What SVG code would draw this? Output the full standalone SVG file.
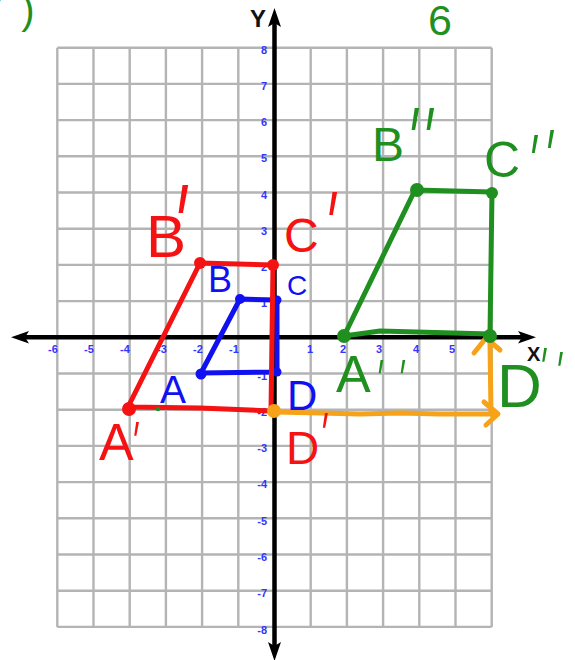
<svg xmlns="http://www.w3.org/2000/svg" width="575" height="660" viewBox="0 0 575 660">
<style>
.grid{stroke:#b4b4b4;stroke-width:2.4;fill:none}
.axis{stroke:#000;stroke-width:4.5;fill:none}
.tick{font-family:"Liberation Sans",Arial,sans-serif;font-size:11px;font-weight:bold;fill:#3434ff}
.ink{fill:none;stroke-width:5;stroke-linecap:round;stroke-linejoin:round}
.hand{font-family:"Liberation Sans",Arial,sans-serif}
.pr{font-family:Inter,"Liberation Sans",sans-serif;font-weight:240;font-style:italic}
.red{stroke:#f51212}.redf{fill:#f51212}
.blue{stroke:#1010f0}.bluef{fill:#1010f0}
.green{stroke:#1f8f1f}.greenf{fill:#1f8f1f}
.orange{stroke:#f7a31a}.orangef{fill:#f7a31a}
</style>
<rect width="575" height="660" fill="#fff"/>
<g id="grid" class="grid">
<path d="M57.3,47.7V626.9M93.5,47.7V626.9M129.7,47.7V626.9M165.9,47.7V626.9M202.1,47.7V626.9M238.3,47.7V626.9M310.7,47.7V626.9M346.9,47.7V626.9M383.1,47.7V626.9M419.3,47.7V626.9M455.5,47.7V626.9M491.7,47.7V626.9"/>
<path d="M57.3,47.7H491.7M57.3,83.9H491.7M57.3,120.1H491.7M57.3,156.3H491.7M57.3,192.5H491.7M57.3,228.7H491.7M57.3,264.9H491.7M57.3,301.1H491.7M57.3,373.5H491.7M57.3,409.7H491.7M57.3,445.9H491.7M57.3,482.1H491.7M57.3,518.3H491.7M57.3,554.5H491.7M57.3,590.7H491.7M57.3,626.9H491.7"/>
</g>
<g id="axes">
<path class="axis" d="M22,337.3H525M274.5,20V650"/>
<path d="M274.5,8L281,27L274.5,23L268,27Z M274.5,661L281,642L274.5,646L268,642Z M11,337.3L29,331L25,337.3L29,343.6Z M536,337.3L518,331L522,337.3L518,343.6Z" fill="#000"/>
<text x="250" y="27" class="hand" font-size="24" font-weight="bold" fill="#111">Y</text>
<text x="527" y="361" class="hand" font-size="20" font-weight="bold" fill="#111">X</text>
</g>
<g id="tick-labels" class="tick">
<g text-anchor="middle">
<text x="53" y="353">-6</text><text x="89" y="353">-5</text><text x="125" y="353">-4</text><text x="162" y="353">-3</text><text x="198" y="353">-2</text><text x="234" y="353">-1</text>
<text x="310" y="353">1</text><text x="343" y="353">2</text><text x="379" y="353">3</text><text x="416" y="353">4</text><text x="452" y="353">5</text>
</g>
<g text-anchor="end">
<text x="267" y="54">8</text><text x="267" y="90">7</text><text x="267" y="126">6</text><text x="267" y="162">5</text><text x="267" y="199">4</text><text x="267" y="235">3</text><text x="267" y="271">2</text><text x="267" y="307">1</text>
<text x="267" y="380">-1</text><text x="267" y="416">-2</text><text x="267" y="452">-3</text><text x="267" y="488">-4</text><text x="267" y="525">-5</text><text x="267" y="561">-6</text><text x="267" y="597">-7</text><text x="267" y="634">-8</text>
</g>
</g>
<g id="connectors">
<g id="translate-right" class="ink orange">
<path d="M276,412L320,413L360,414L400,413L440,414L497,414"/>
<path d="M484,402L498,414L486,425"/>
</g>
<g id="translate-up" class="ink orange">
<path d="M491,414L490,342"/>
<path d="M474,353L486,338L500,350"/>
</g>
</g>
<g id="shape-ABCD">
<path class="ink blue" d="M201,373L240,299L277,300L277,372L201,373"/>
<g class="bluef"><circle cx="201" cy="374" r="5.5"/><circle cx="240" cy="299" r="5"/><circle cx="277" cy="300" r="4.5"/><circle cx="277" cy="372" r="4.5"/></g>
<text class="hand bluef" x="208" y="292" font-size="36">B</text>
<text class="hand bluef" x="287" y="295" font-size="28">C</text>
<text class="hand bluef" x="160" y="403" font-size="39">A</text>
<text class="hand bluef" x="287" y="410" font-size="42">D</text>
</g>
<g id="shape-A1B1C1D1">
<path class="ink red" d="M128,407L200,263L273,265L271,411L200,408L128,407"/>
<g class="redf"><circle cx="129" cy="409" r="7"/><circle cx="200" cy="263" r="6"/><circle cx="273" cy="265" r="6"/></g>
<circle class="orangef" cx="274" cy="411" r="7"/>
<text class="hand redf" x="146" y="257" font-size="60">B<tspan class="pr" x="160" y="270" font-size="117">'</tspan></text>
<text class="hand redf" x="284" y="252" font-size="48">C<tspan class="pr" x="314" y="262" font-size="96">'</tspan></text>
<text class="hand redf" x="99" y="460" font-size="52">A<tspan class="pr" x="125" y="464" font-size="58">'</tspan></text>
<text class="hand redf" x="286" y="464" font-size="46">D<tspan class="pr" x="313" y="458" font-size="62">'</tspan></text>
</g>
<g id="shape-A2B2C2D2">
<path class="ink green" d="M344,336L415,190L492,192L490,334L380,331L344,336"/>
<g class="greenf"><circle cx="344" cy="336" r="7"/><circle cx="417" cy="190" r="7"/><circle cx="492" cy="193" r="6"/><circle cx="490" cy="336" r="7"/></g>
<text class="hand greenf" x="372" y="161" font-size="48">B<tspan class="pr" x="397 412" y="175" font-size="92">''</tspan></text>
<text class="hand greenf" x="484" y="177" font-size="50">C<tspan class="pr" x="520 536" y="190 185" font-size="75">''</tspan></text>
<text class="hand greenf" x="336" y="392" font-size="52">A<tspan class="pr" x="370 392" y="400" font-size="55">''</tspan></text>
<text class="hand greenf" x="497" y="407" font-size="62">D<tspan class="pr" x="533 549" y="390 394" font-size="58">''</tspan></text>
<circle class="greenf" cx="158" cy="409" r="2.2"/>
</g>
<g id="annotations" class="hand greenf">
<text x="428" y="35" font-size="43">6</text>
<text x="-19" y="24" font-size="40">7<tspan dx="18">)</tspan></text>
</g>
</svg>
